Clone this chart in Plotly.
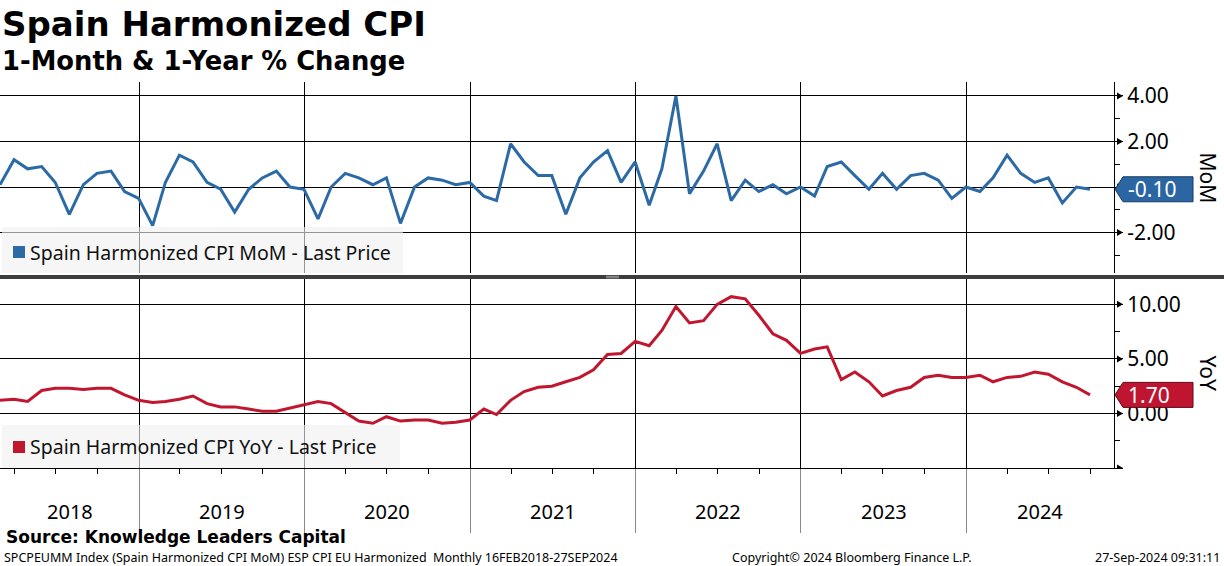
import plotly.graph_objects as go
import pandas as pd

# ---------------- data ----------------
months = pd.date_range("2018-02-01", "2024-09-01", freq="MS")
dates = (months + pd.offsets.MonthEnd(0)).strftime("%Y-%m-%d").tolist()

mom = [0.1, 1.2, 0.8, 0.9, 0.2, -1.2, 0.1, 0.6, 0.7, -0.2, -0.5,
       -1.7, 0.2, 1.4, 1.1, 0.2, -0.1, -1.1, -0.1, 0.4, 0.7, 0.0, -0.1,
       -1.4, 0.0, 0.6, 0.4, 0.1, 0.4, -1.6, 0.0, 0.4, 0.3, 0.1, 0.2,
       -0.4, -0.6, 1.9, 1.1, 0.5, 0.5, -1.2, 0.4, 1.1, 1.6, 0.2, 1.1,
       -0.8, 0.8, 4.0, -0.3, 0.7, 1.9, -0.6, 0.3, -0.2, 0.1, -0.3, 0.0,
       -0.4, 0.9, 1.1, 0.5, -0.1, 0.6, -0.1, 0.5, 0.6, 0.3, -0.5, 0.0,
       -0.2, 0.4, 1.4, 0.6, 0.2, 0.4, -0.7, 0.0, -0.1]

yoy = [1.2, 1.3, 1.1, 2.1, 2.3, 2.3, 2.2, 2.3, 2.3, 1.7, 1.2,
       1.0, 1.1, 1.3, 1.6, 0.9, 0.6, 0.6, 0.4, 0.2, 0.2, 0.5, 0.8,
       1.1, 0.9, 0.1, -0.7, -0.9, -0.3, -0.7, -0.6, -0.6, -0.9, -0.8, -0.6,
       0.4, -0.1, 1.2, 2.0, 2.4, 2.5, 2.9, 3.3, 4.0, 5.4, 5.5, 6.6,
       6.2, 7.6, 9.8, 8.3, 8.5, 10.0, 10.7, 10.5, 9.0, 7.3, 6.7, 5.5,
       5.9, 6.1, 3.1, 3.8, 2.9, 1.6, 2.1, 2.4, 3.3, 3.5, 3.3, 3.3,
       3.5, 2.9, 3.3, 3.4, 3.8, 3.6, 2.9, 2.4, 1.7]

years = ["2018", "2019", "2020", "2021", "2022", "2023", "2024"]
mom_ticks = [-2, 0, 2, 4]
mom_labels = ["-2.00", "", "2.00", "4.00"]      # 0.00 is hidden behind the last-value tag
yoy_ticks = [-5, 0, 5, 10]
yoy_labels = ["", "0.00", "5.00", "10.00"]

title = "Spain Harmonized CPI"
subtitle = "1-Month & 1-Year % Change"
mom_name = "Spain Harmonized CPI MoM - Last Price"
yoy_name = "Spain Harmonized CPI YoY - Last Price"
source = "Source: Knowledge Leaders Capital"
foot_left = "SPCPEUMM Index (Spain Harmonized CPI MoM) ESP CPI EU Harmonized  Monthly 16FEB2018-27SEP2024"
foot_mid = "Copyright\u00a9 2024 Bloomberg Finance L.P."
foot_right = "27-Sep-2024 09:31:11"

# ---------------- style ----------------
W, H = 1224, 566
BLUE = "#2c6aa6"
RED = "#c0172f"
FONT = "Noto Sans"
BFONT = "DejaVu Sans"
XR = ["2018-02-28", "2024-11-22"]
XEND = 1114 / W


def py(px):
    return 1 - px / H


def px_(x):
    return x / W


top_dom = [py(273), py(82)]
bot_dom = [py(468), py(279)]

fig = go.Figure()
fig.add_trace(go.Scatter(x=dates, y=mom, mode="lines", line=dict(color=BLUE, width=3),
                         xaxis="x", yaxis="y", showlegend=False, hoverinfo="skip"))
fig.add_trace(go.Scatter(x=dates, y=yoy, mode="lines", line=dict(color=RED, width=3),
                         xaxis="x2", yaxis="y2", showlegend=False, hoverinfo="skip"))

common_y = dict(side="right", showline=True, linecolor="black", linewidth=1,
                showgrid=True, gridcolor="black", gridwidth=1, zeroline=False,
                ticks="outside", ticklen=8, tickcolor="black", tickwidth=1,
                tickfont=dict(family=FONT, size=21, color="black"), fixedrange=True)

fig.update_layout(
    width=W, height=H, margin=dict(l=0, r=0, t=0, b=0),
    paper_bgcolor="white", plot_bgcolor="white",
    xaxis=dict(domain=[0, XEND], anchor="y", type="date", range=XR,
               showgrid=True, gridcolor="black", gridwidth=1,
               dtick="M12", tick0="2018-01-01", showticklabels=False, ticks="",
               showline=False, zeroline=False, fixedrange=True),
    xaxis2=dict(domain=[0, XEND], anchor="y2", type="date", range=XR, matches="x",
                showgrid=True, gridcolor="black", gridwidth=1,
                dtick="M12", tick0="2018-01-01", showticklabels=False,
                ticks="outside", ticklen=64, tickcolor="#8a8a8a", tickwidth=1,
                minor=dict(dtick="M3", tick0="2018-01-01", ticks="outside", ticklen=5,
                           tickcolor="black", showgrid=False),
                showline=True, linecolor="black", linewidth=1, zeroline=False, fixedrange=True),
    yaxis=dict(domain=top_dom, anchor="x", range=[-3.78, 4.615],
               tickvals=mom_ticks, ticktext=mom_labels,
               minor=dict(dtick=1, tick0=1, ticks="outside", ticklen=5, tickcolor="black",
                          showgrid=False), **common_y),
    yaxis2=dict(domain=bot_dom, anchor="x2", range=[-5, 12.32],
                tickvals=yoy_ticks, ticktext=yoy_labels,
                minor=dict(dtick=2.5, tick0=2.5, ticks="outside", ticklen=5, tickcolor="black",
                           showgrid=False), **common_y),
)

shapes = []
ann = []

# arrow heads on the major ticks
for yref, ticks in [("y", mom_ticks), ("y2", yoy_ticks)]:
    for v in ticks:
        shapes.append(dict(type="path", xref="paper", yref=yref, xsizemode="pixel",
                           ysizemode="pixel", xanchor=XEND, yanchor=v,
                           path="M3,3.5 L9,0 L3,-3.5 Z", fillcolor="black",
                           line=dict(width=0), layer="above"))

# separator bar between panels
shapes.append(dict(type="rect", xref="paper", yref="paper", x0=0, x1=1, y0=py(279), y1=py(275),
                   fillcolor="#3d3d3d", line=dict(width=0), layer="above"))
shapes.append(dict(type="line", xref="paper", yref="paper", x0=px_(606), x1=px_(619),
                   y0=py(276.3), y1=py(276.3), line=dict(color="#9a9a9a", width=1), layer="above"))
shapes.append(dict(type="line", xref="paper", yref="paper", x0=px_(606), x1=px_(619),
                   y0=py(277.8), y1=py(277.8), line=dict(color="#9a9a9a", width=1), layer="above"))

# legend boxes
for (bx0, bx1, by0, by1, sy0, sy1, color, name) in [
        (2, 403, 227, 273, 246, 258, BLUE, mom_name),
        (2, 400, 425, 468, 441, 453, RED, yoy_name)]:
    shapes.append(dict(type="rect", xref="paper", yref="paper", x0=px_(bx0), x1=px_(bx1),
                       y0=py(by1), y1=py(by0), fillcolor="rgba(240,240,240,0.62)",
                       line=dict(width=0), layer="above"))
    shapes.append(dict(type="rect", xref="paper", yref="paper", x0=px_(13), x1=px_(25),
                       y0=py(sy1), y1=py(sy0), fillcolor=color, line=dict(width=0), layer="above"))
    ann.append(dict(text=name, xref="paper", yref="paper", x=px_(28), y=py((sy0 + sy1) / 2),
                    xanchor="left", yanchor="middle", showarrow=False,
                    font=dict(family=FONT, size=19.5, color="#111111")))

# last value tags
for (val, yref, color, border) in [(mom[-1], "y", "#2b65a2", "#163a63"),
                                    (yoy[-1], "y2", "#bf1530", "#5c0a16")]:
    shapes.append(dict(type="path", xref="paper", yref=yref, xsizemode="pixel", ysizemode="pixel",
                       xanchor=XEND, yanchor=val,
                       path="M1,0 L9,12.5 L79,12.5 L79,-12.5 L9,-12.5 Z",
                       fillcolor=color, line=dict(color=border, width=1), layer="above"))
    ann.append(dict(text=f"{val:.2f}", xref="paper", yref=yref, x=XEND, y=val, xshift=12,
                    xanchor="left", yanchor="middle", showarrow=False,
                    font=dict(family=FONT, size=21, color="white")))

# axis titles
ann.append(dict(text="MoM", xref="paper", yref="paper", x=px_(1208), y=sum(top_dom) / 2,
                textangle=90, showarrow=False, xanchor="center", yanchor="middle",
                font=dict(family=FONT, size=21, color="black")))
ann.append(dict(text="YoY", xref="paper", yref="paper", x=px_(1208), y=sum(bot_dom) / 2,
                textangle=90, showarrow=False, xanchor="center", yanchor="middle",
                font=dict(family=FONT, size=21, color="black")))

# year labels centred on visible part of each year
r0, r1 = pd.Timestamp(XR[0]), pd.Timestamp(XR[1])
for yr in years:
    a = max(pd.Timestamp(f"{yr}-01-01"), r0)
    b = min(pd.Timestamp(f"{int(yr) + 1}-01-01"), r1)
    mid = a + (b - a) / 2
    ann.append(dict(text=yr, xref="x2", yref="paper", x=mid.strftime("%Y-%m-%d %H:%M"),
                    y=py(511), xanchor="center", yanchor="middle", showarrow=False,
                    font=dict(family=FONT, size=20, color="black")))

# titles and footer
ann.append(dict(text=f"<b>{title}</b>", xref="paper", yref="paper", x=0, y=py(24),
                xanchor="left", yanchor="middle", showarrow=False,
                font=dict(family=BFONT, size=34, color="black")))
ann.append(dict(text=f"<b>{subtitle}</b>", xref="paper", yref="paper", x=0, y=py(61),
                xanchor="left", yanchor="middle", showarrow=False,
                font=dict(family=BFONT, size=25.8, color="black")))
ann.append(dict(text=f"<b>{source}</b>", xref="paper", yref="paper", x=px_(4), y=py(537),
                xanchor="left", yanchor="middle", showarrow=False,
                font=dict(family=BFONT, size=17, color="black")))
ann.append(dict(text=foot_left, xref="paper", yref="paper", x=px_(2), y=py(557),
                xanchor="left", yanchor="middle", showarrow=False,
                font=dict(family=FONT, size=12.5, color="black")))
ann.append(dict(text=foot_mid, xref="paper", yref="paper", x=px_(852), y=py(557),
                xanchor="center", yanchor="middle", showarrow=False,
                font=dict(family=FONT, size=12.5, color="black")))
ann.append(dict(text=foot_right, xref="paper", yref="paper", x=px_(1222), y=py(557),
                xanchor="right", yanchor="middle", showarrow=False,
                font=dict(family=FONT, size=12.5, color="black")))

fig.update_layout(shapes=shapes, annotations=ann)
fig.write_html("out.html", config={"displayModeBar": False},
               post_script="document.body.style.margin='0px';")
